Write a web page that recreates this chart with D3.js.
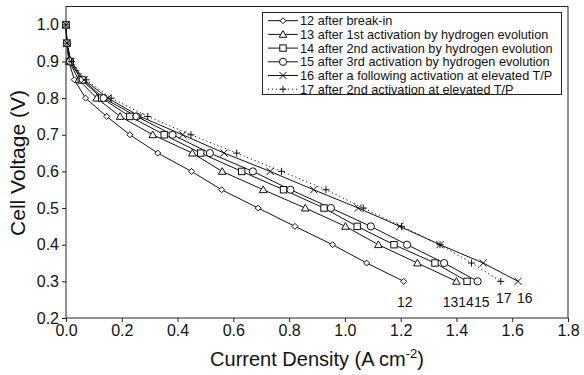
<!DOCTYPE html>
<html>
<head>
<meta charset="utf-8">
<script src="https://cdn.jsdelivr.net/npm/d3@7"></script>
<style>
  body { margin: 0; background: #fff; }
  text { font-family: "Liberation Sans", Arial, Helvetica, sans-serif; fill: #111; }
</style>
</head>
<body>
<svg id="chart" width="584" height="375"></svg>
<script>
// cell voltage steps (V) shared by all polarization curves
var voltages = [1.0, 0.95, 0.9, 0.85, 0.8, 0.75, 0.7, 0.65, 0.6, 0.55, 0.5, 0.45, 0.4, 0.35, 0.3];

// current density (A cm-2)
var s12 = [0, 0.003, 0.010, 0.030, 0.070, 0.146, 0.229, 0.329, 0.450, 0.558, 0.689, 0.821, 0.956, 1.078, 1.211];
var s13 = [0, 0.003, 0.012, 0.045, 0.110, 0.194, 0.311, 0.453, 0.560, 0.707, 0.858, 1.002, 1.120, 1.260, 1.400];
var s14 = [0, 0.003, 0.014, 0.055, 0.128, 0.229, 0.352, 0.483, 0.630, 0.780, 0.925, 1.044, 1.176, 1.323, 1.438];
var s15 = [0, 0.003, 0.015, 0.060, 0.135, 0.253, 0.382, 0.516, 0.670, 0.805, 0.950, 1.093, 1.223, 1.356, 1.476];
var s16 = [0, 0.004, 0.018, 0.065, 0.150, 0.265, 0.418, 0.567, 0.732, 0.888, 1.048, 1.197, 1.341, 1.496, 1.621];
var s17 = [0, 0.004, 0.020, 0.072, 0.162, 0.293, 0.448, 0.612, 0.773, 0.932, 1.066, 1.203, 1.341, 1.454, 1.559];

var names = ["12 after break-in",
             "13 after 1st activation by hydrogen evolution",
             "14 after 2nd activation by hydrogen evolution",
             "15 after 3rd activation by hydrogen evolution",
             "16 after a following activation at elevated T/P",
             "17 after 2nd activation at elevated T/P"];
var tags = ["12", "13", "14", "15", "16", "17"];
var markers = ["diamond", "triangle", "square", "circle", "cross", "plus"];

// curve end labels (position in data units)
var labelX = [1.215, 1.379, 1.434, 1.491, 1.645, 1.570];
var labelV = [0.230, 0.230, 0.230, 0.230, 0.240, 0.240];

var xTicks = [0, 0.2, 0.4, 0.6, 0.8, 1.0, 1.2, 1.4, 1.6, 1.8];
var yTicks = [0.2, 0.3, 0.4, 0.5, 0.6, 0.7, 0.8, 0.9, 1.0];

var allSeries = [s12, s13, s14, s15, s16, s17];

var margin = {top: 6.5, right: 16, bottom: 57, left: 66};
var W = 584, H = 375;
var svg = d3.select("#chart");

var x = d3.scaleLinear().domain([0, 1.8]).range([margin.left, W - margin.right]);
var y = d3.scaleLinear().domain([0.2, 1.05]).range([H - margin.bottom, margin.top]);

// axes
svg.append("g")
  .attr("transform", "translate(0," + (H - margin.bottom) + ")")
  .call(d3.axisBottom(x).tickValues(xTicks).tickFormat(d3.format(".1f")).tickSize(4).tickSizeOuter(0).tickPadding(3))
  .call(function(g) {
    g.select(".domain").remove();
    g.selectAll("line").attr("stroke", "#222");
    g.selectAll("text").attr("font-size", 16).attr("font-family", "Liberation Sans, Arial, sans-serif").attr("fill", "#111");
  });

svg.append("g")
  .attr("transform", "translate(" + margin.left + ",0)")
  .call(d3.axisLeft(y).tickValues(yTicks).tickFormat(d3.format(".1f")).tickSize(4).tickSizeOuter(0).tickPadding(3))
  .call(function(g) {
    g.select(".domain").remove();
    g.selectAll("line").attr("stroke", "#222");
    g.selectAll("text").attr("font-size", 16).attr("font-family", "Liberation Sans, Arial, sans-serif").attr("fill", "#111");
  });

// frame
svg.append("rect")
  .attr("x", margin.left).attr("y", margin.top)
  .attr("width", W - margin.left - margin.right)
  .attr("height", H - margin.top - margin.bottom)
  .attr("fill", "none").attr("stroke", "#222").attr("stroke-width", 1);

// axis titles
var xt = svg.append("text")
  .attr("x", (margin.left + W - margin.right) / 2).attr("y", 366)
  .attr("text-anchor", "middle").attr("font-size", 20);
xt.append("tspan").text("Current Density (A cm");
xt.append("tspan").attr("font-size", 13).attr("dy", -8).text("-2");
xt.append("tspan").attr("dy", 8).text(")");

svg.append("text")
  .attr("transform", "translate(25," + 163 + ") rotate(-90)")
  .attr("text-anchor", "middle").attr("font-size", 21)
  .text("Cell Voltage (V)");

// marker drawing
function drawMarker(g, type, cx, cy) {
  var s = g.append("g").attr("transform", "translate(" + cx + "," + cy + ")");
  function apply(sel) { return sel.attr("fill", "#fff").attr("stroke", "#111").attr("stroke-width", 1); }
  if (type === "diamond") apply(s.append("path").attr("d", "M0,-3L3,0L0,3L-3,0Z"));
  else if (type === "triangle") apply(s.append("path").attr("d", "M0,-3.8L3.8,2.9L-3.8,2.9Z"));
  else if (type === "square") apply(s.append("rect").attr("x", -3.2).attr("y", -3.2).attr("width", 6.4).attr("height", 6.4));
  else if (type === "circle") apply(s.append("circle").attr("r", 3.6));
  else if (type === "cross") s.append("path").attr("d", "M-3.6,-3.6L3.6,3.6M-3.6,3.6L3.6,-3.6").attr("stroke", "#111").attr("fill", "none");
  else if (type === "plus") s.append("path").attr("d", "M-3.5,0L3.5,0M0,-3.5L0,3.5").attr("stroke", "#111").attr("fill", "none");
}

var line = d3.line().x(function(d) { return x(d[0]); }).y(function(d) { return y(d[1]); });

allSeries.forEach(function(s, i) {
  var pts = s.map(function(v, j) { return [v, voltages[j]]; });
  svg.append("path")
    .datum(pts)
    .attr("d", line)
    .attr("fill", "none")
    .attr("stroke", "#111")
    .attr("stroke-width", 1)
    .attr("stroke-dasharray", i === 5 ? "1.2,2.8" : null);
});

allSeries.forEach(function(s, i) {
  var g = svg.append("g");
  s.forEach(function(v, j) { drawMarker(g, markers[i], x(v), y(voltages[j])); });
});

// curve tags
tags.forEach(function(t, i) {
  svg.append("text")
    .attr("x", x(labelX[i])).attr("y", y(labelV[i]))
    .attr("text-anchor", "middle").attr("font-size", 14)
    .text(t);
});

// legend
var lg = svg.append("g");
lg.append("rect")
  .attr("x", 262.5).attr("y", 12.5).attr("width", 299).attr("height", 82)
  .attr("fill", "#fff").attr("stroke", "#222").attr("stroke-width", 1);
names.forEach(function(n, i) {
  var cy = 20.7 + i * 13.7;
  lg.append("line")
    .attr("x1", 268).attr("x2", 298).attr("y1", cy).attr("y2", cy)
    .attr("stroke", "#111").attr("stroke-width", 1)
    .attr("stroke-dasharray", i === 5 ? "1.2,2.8" : null);
  drawMarker(lg, markers[i], 283, cy);
  lg.append("text")
    .attr("x", 300).attr("y", cy + 4.6)
    .attr("font-size", 12.7)
    .text(n);
});
</script>
</body>
</html>
